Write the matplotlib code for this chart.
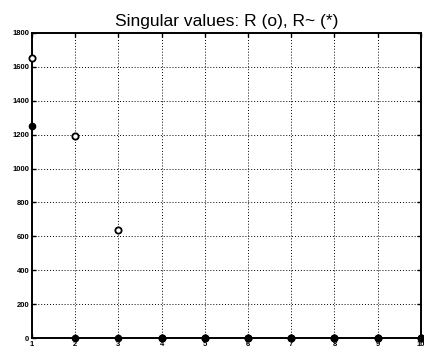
import matplotlib
matplotlib.use("Agg")
import matplotlib.pyplot as plt
import numpy as np

idx = np.arange(1, 11)
r_vals = [1650, 1190, 635, 0, 0, 0, 0, 0, 0, 0]
rt_vals = [1250, 0, 0, 0, 0, 0, 0, 0, 0, 0]
yticks = [0, 200, 400, 600, 800, 1000, 1200, 1400, 1600, 1800]

plt.rcParams['font.family'] = ['Liberation Sans', 'DejaVu Sans']
fig = plt.figure(figsize=(4.24, 3.51), dpi=100)
ax = fig.add_axes([0.0755, 0.037, 0.917, 0.869])

ax.plot(idx, r_vals, linestyle='none', marker='o', markersize=4.5,
        markerfacecolor='white', markeredgecolor='black', markeredgewidth=1.3,
        clip_on=False, zorder=3)
ax.plot(idx, rt_vals, linestyle='none', marker='o', markersize=4.5,
        color='black', clip_on=False, zorder=4)

ax.set_xlim(1, 10)
ax.set_ylim(0, 1800)
ax.set_xticks(idx)
ax.set_yticks(yticks)
ax.tick_params(direction='in', length=3, width=1, labelsize=5.5, pad=2,
               top=True, right=True)
for lab in ax.get_xticklabels() + ax.get_yticklabels():
    lab.set_fontweight('bold')
ax.grid(True, linestyle=(0, (1, 2)), color='black', linewidth=0.7)
for s in ax.spines.values():
    s.set_linewidth(1.4)
ax.set_title('Singular values: R (o), R~ (*)', fontsize=12.5, pad=5)

fig.savefig('out.png', dpi=100)
